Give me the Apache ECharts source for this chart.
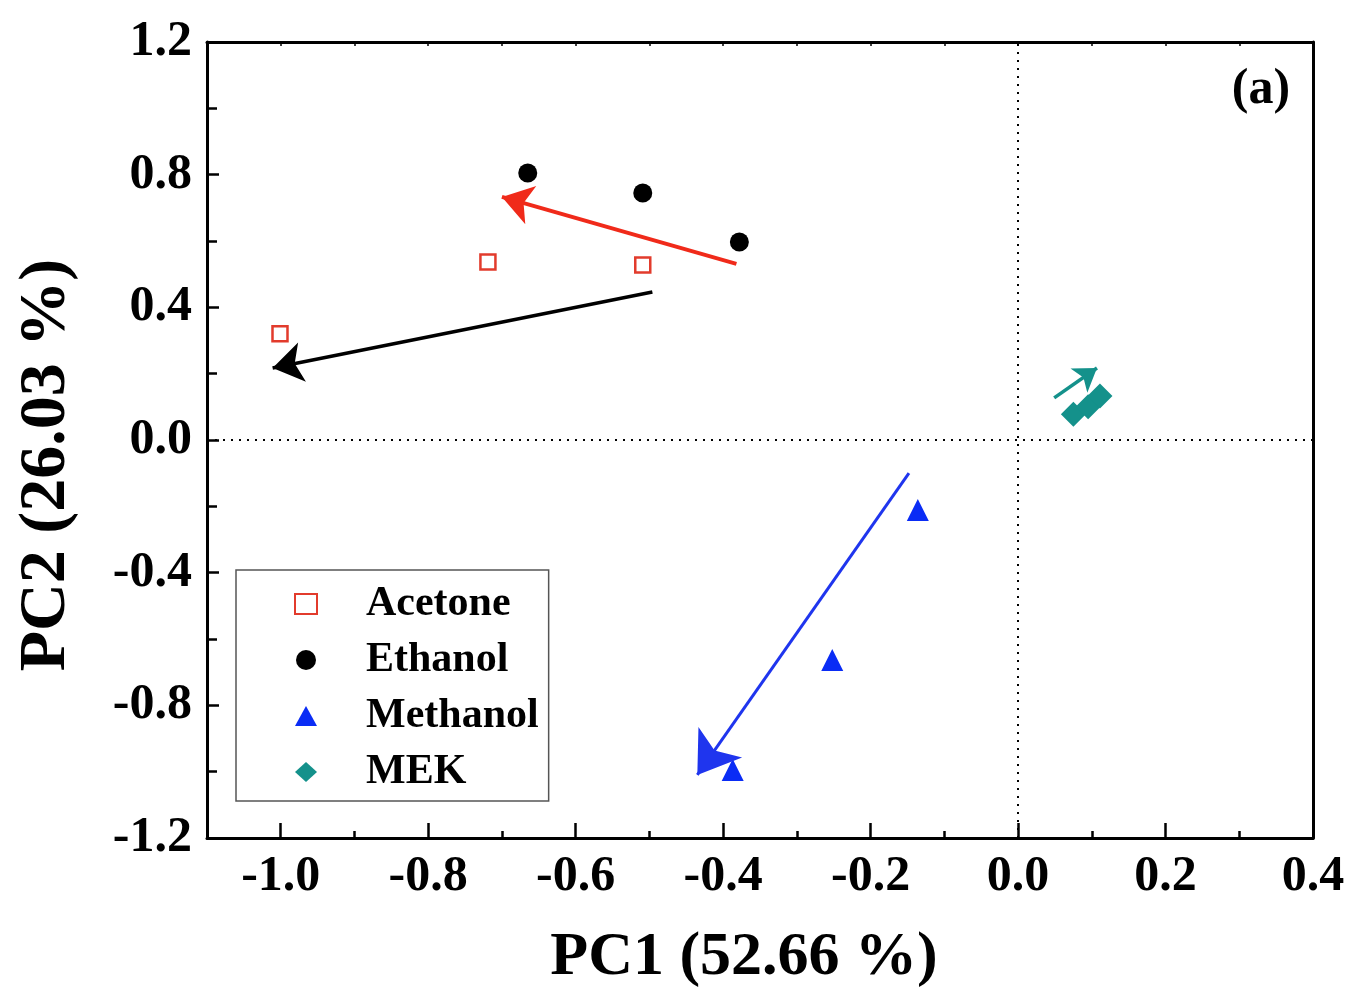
<!DOCTYPE html>
<html><head><meta charset="utf-8">
<script src="https://cdn.jsdelivr.net/npm/echarts@6/dist/echarts.min.js"></script>
<style>html,body{margin:0;padding:0;background:#fff}#c{width:1353px;height:996px}</style>
</head><body><div id="c"></div>
<script>
// ---- data ----
const seriesNames = ['Acetone', 'Ethanol', 'Methanol', 'MEK'];
const acetone  = [[-1.001, 0.320], [-0.719, 0.537], [-0.509, 0.528]];
const ethanol  = [[-0.665, 0.805], [-0.509, 0.745], [-0.378, 0.597]];
const methanol = [[-0.136, -0.211], [-0.252, -0.663], [-0.387, -0.995]];
const mek      = [[0.075, 0.078], [0.095, 0.100], [0.111, 0.133]];
// arrows: [start, tip]
const arrowRed   = [[-0.382, 0.531], [-0.700, 0.733]];
const arrowBlack = [[-0.496, 0.446], [-1.011, 0.217]];
const arrowBlue  = [[-0.148, -0.100], [-0.435, -1.010]];
const arrowTeal  = [[0.049, 0.127], [0.107, 0.217]];
const xTitle = 'PC1 (52.66 %)';
const yTitle = 'PC2 (26.03 %)';
const panelLabel = '(a)';

const FONT = "'Liberation Serif','Times New Roman','DejaVu Serif',serif";
const fmt = v => (Math.abs(v) < 1e-9 ? '0.0' : v.toFixed(1));

function arrowSeries(pts, color, width, headSize) {
  return {
    type: 'lines', coordinateSystem: 'cartesian2d', xAxisIndex: 0, yAxisIndex: 0,
    silent: true, polyline: false,
    symbol: ['none', 'arrow'],
    symbolSize: headSize,
    lineStyle: { color: color, width: width, type: 'solid', opacity: 1, curveness: 0 },
    effect: { show: false },
    data: [{ coords: [pts[0], pts[1]] }],
    z: 3
  };
}

const chart = echarts.init(document.getElementById('c'), null, { renderer: 'canvas' });
chart.setOption({
  animation: false,
  backgroundColor: '#ffffff',
  grid: { left: 207, right: 40, top: 42, bottom: 158, containLabel: false },
  xAxis: [{
    type: 'value', position: 'bottom', min: -1.1, max: 0.4, splitNumber: 7,
    axisLine: { show: true, onZero: false, lineStyle: { color: '#000', width: 3 } },
    axisTick: { show: true, inside: true, length: 15, lineStyle: { color: '#000', width: 2.5 } },
    minorTick: { show: true, splitNumber: 2, length: 7, lineStyle: { color: '#000', width: 2.5 } },
    splitLine: { show: false },
    axisLabel: { show: true, margin: 14, formatter: fmt, color: '#000', fontFamily: FONT, fontWeight: 'bold', fontSize: 50 }
  }, {
    type: 'value', position: 'top', min: -1.1, max: 0.4, interval: 0.1,
    axisLine: { show: true, onZero: false, lineStyle: { color: '#000', width: 3 } },
    axisTick: { show: true, inside: true, length: 4, lineStyle: { color: '#000', width: 1.5 } },
    splitLine: { show: false }, axisLabel: { show: false }
  }],
  yAxis: [{
    type: 'value', position: 'left', min: -1.2, max: 1.2, interval: 0.4,
    axisLine: { show: true, onZero: false, lineStyle: { color: '#000', width: 3 } },
    axisTick: { show: true, inside: true, length: 12, lineStyle: { color: '#000', width: 2.5 } },
    minorTick: { show: true, splitNumber: 2, length: 10, lineStyle: { color: '#000', width: 2.5 } },
    splitLine: { show: false },
    axisLabel: { show: true, margin: 15, formatter: fmt, color: '#000', fontFamily: FONT, fontWeight: 'bold', fontSize: 50 }
  }, {
    type: 'value', position: 'right', min: -1.2, max: 1.2, interval: 0.4,
    axisLine: { show: true, onZero: false, lineStyle: { color: '#000', width: 3 } },
    axisTick: { show: false }, splitLine: { show: false }, axisLabel: { show: false }
  }],
  legend: {
    orient: 'vertical', left: 236, top: 570,
    data: seriesNames,
    itemWidth: 22, itemHeight: 20, itemGap: 14,
    padding: [13, 10, 8, 58],
    borderColor: '#555', borderWidth: 1.5, backgroundColor: '#fff',
    textStyle: { color: '#000', fontFamily: FONT, fontWeight: 'bold', fontSize: 42, padding: [0, 0, 0, 44] },
    selectedMode: false
  },
  graphic: [
    { type: 'text', x: 744, y: 958, silent: true,
      style: { text: xTitle, fontFamily: FONT, fontWeight: 'bold', fontSize: 62, fill: '#000', align: 'center', verticalAlign: 'middle' } },
    { type: 'text', x: 47, y: 465, rotation: Math.PI / 2, silent: true,
      style: { text: yTitle, fontFamily: FONT, fontWeight: 'bold', fontSize: 66, fill: '#000', align: 'center', verticalAlign: 'middle' } },
    { type: 'text', x: 1261, y: 90, silent: true,
      style: { text: panelLabel, fontFamily: FONT, fontWeight: 'bold', fontSize: 50, fill: '#000', align: 'center', verticalAlign: 'middle' } }
  ],
  series: [
    { type: 'line', data: [], silent: true,
      markLine: { silent: true, symbol: ['none', 'none'], label: { show: false },
        lineStyle: { color: '#000', width: 2, type: [2, 6] }, emphasis: { disabled: true },
        data: [{ xAxis: 0 }, { yAxis: 0 }] } },
    arrowSeries(arrowRed, '#f02a1a', 4, 30),
    arrowSeries(arrowBlack, '#000000', 3.5, 30),
    arrowSeries(arrowBlue, '#1f35ee', 3, 40),
    arrowSeries(arrowTeal, '#14918b', 3.5, 22),
    { name: 'Acetone', type: 'scatter', data: acetone, symbol: 'rect', symbolSize: 15,
      itemStyle: { color: '#ffffff', borderColor: '#e23b2c', borderWidth: 2.5, opacity: 1 } },
    { name: 'Ethanol', type: 'scatter', data: ethanol, symbol: 'circle', symbolSize: 19,
      itemStyle: { color: '#000000', opacity: 1 } },
    { name: 'Methanol', type: 'scatter', data: methanol, symbol: 'triangle', symbolSize: 22,
      itemStyle: { color: '#0a2cf5', opacity: 1 } },
    { name: 'MEK', type: 'scatter', data: mek, symbol: 'diamond', symbolSize: 25,
      itemStyle: { color: '#14918b', opacity: 1 } }
  ]
});
</script>
</body></html>
